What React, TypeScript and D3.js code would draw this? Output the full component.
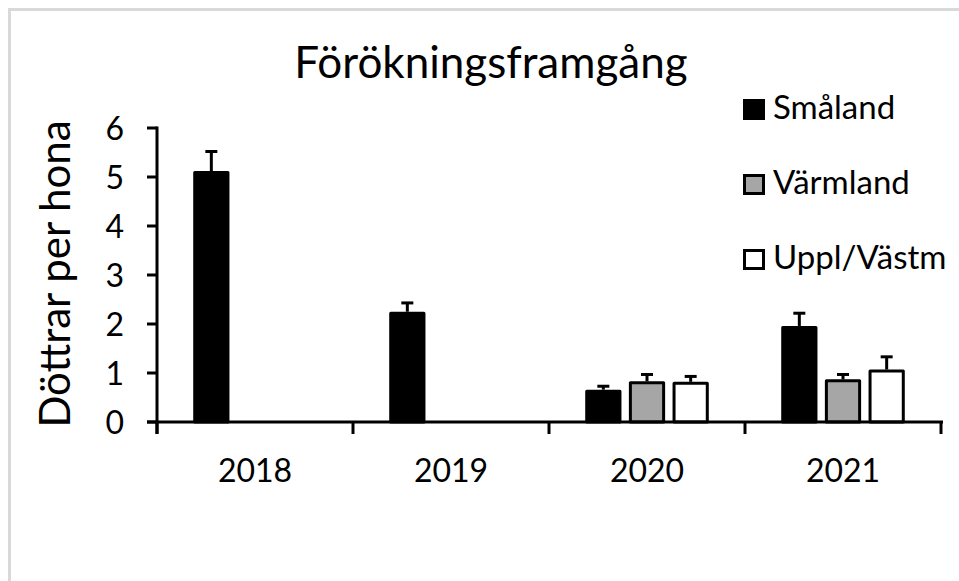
import React, { useEffect, useRef } from "react";
import * as d3 from "d3";

const years = ["2018", "2019", "2020", "2021"];
const seriesNames = ["Småland", "Värmland", "Uppl/Västm"];
const seriesColors = ["#000000", "#a6a6a6", "#ffffff"];
const smaland = [5.12, 2.25, 0.66, 1.96];
const smalandErr = [0.4, 0.18, 0.07, 0.26];
const varmland = [null, null, 0.83, 0.87];
const varmlandErr = [null, null, 0.14, 0.1];
const uppl = [null, null, 0.82, 1.07];
const upplErr = [null, null, 0.11, 0.26];
const yTicks = [0, 1, 2, 3, 4, 5, 6];

const FONT = "Lato, 'Open Sans', sans-serif";

const App = () => {
    const ref = useRef<SVGSVGElement>(null);

    useEffect(() => {
        const svg = d3.select(ref.current);
        svg.selectAll("*").remove();

        const width = 959;
        const height = 581;
        svg.attr("width", width).attr("height", height);

        svg.append("rect")
            .attr("width", width).attr("height", height)
            .attr("fill", "#ffffff");

        // light frame (only top + left visible in the crop)
        svg.append("rect")
            .attr("x", 9.5).attr("y", 9.5)
            .attr("width", width + 20).attr("height", height + 20)
            .attr("fill", "none")
            .attr("stroke", "#d9d9d9")
            .attr("stroke-width", 3);

        const x0 = d3.scaleBand().domain(years).range([157, 941]).padding(0);
        const x1 = d3.scaleBand().domain(seriesNames)
            .range([32.5, 163.5]).paddingInner(0.17).paddingOuter(0.085);
        const y = d3.scaleLinear().domain([0, 6]).range([422, 128]);

        const values = [smaland, varmland, uppl];
        const errors = [smalandErr, varmlandErr, upplErr];

        const bars: { year: string; s: number; v: number; e: number }[] = [];
        years.forEach((yr, i) => {
            seriesNames.forEach((_, s) => {
                const v = values[s][i];
                if (v != null) bars.push({ year: yr, s, v, e: errors[s][i] as number });
            });
        });

        const g = svg.append("g");

        // error bars (drawn first so bar covers the lower end)
        const bw = x1.bandwidth();
        const cx = (d: { year: string; s: number }) =>
            (x0(d.year) as number) + (x1(seriesNames[d.s]) as number) + bw / 2;

        g.selectAll(".err")
            .data(bars)
            .enter()
            .append("line")
            .attr("x1", cx).attr("x2", cx)
            .attr("y1", (d) => y(d.v))
            .attr("y2", (d) => y(d.v + d.e))
            .attr("stroke", "#000").attr("stroke-width", 3);

        g.selectAll(".cap")
            .data(bars)
            .enter()
            .append("line")
            .attr("x1", (d) => cx(d) - 6).attr("x2", (d) => cx(d) + 6)
            .attr("y1", (d) => y(d.v + d.e))
            .attr("y2", (d) => y(d.v + d.e))
            .attr("stroke", "#000").attr("stroke-width", 3);

        g.selectAll(".bar")
            .data(bars)
            .enter()
            .append("rect")
            .attr("x", (d) => (x0(d.year) as number) + (x1(seriesNames[d.s]) as number) + 1.5)
            .attr("y", (d) => y(d.v) + 1.5)
            .attr("width", bw - 3)
            .attr("height", (d) => y(0) - y(d.v) - 1.5)
            .attr("fill", (d) => seriesColors[d.s])
            .attr("stroke", "#000")
            .attr("stroke-width", 3)
            .attr("stroke-linejoin", "round");

        // y axis
        g.append("line")
            .attr("x1", 157).attr("x2", 157)
            .attr("y1", y(6) - 1.5).attr("y2", y(0) + 12)
            .attr("stroke", "#000").attr("stroke-width", 3);
        g.selectAll(".ytick")
            .data(yTicks)
            .enter()
            .append("line")
            .attr("x1", 147).attr("x2", 157)
            .attr("y1", (d) => y(d)).attr("y2", (d) => y(d))
            .attr("stroke", "#000").attr("stroke-width", 3);
        g.selectAll(".ylab")
            .data(yTicks)
            .enter()
            .append("text")
            .attr("x", 124)
            .attr("y", (d) => y(d))
            .attr("dy", "0.36em")
            .attr("text-anchor", "end")
            .style("font-family", FONT)
            .style("font-size", "32px")
            .style("fill", "#000")
            .text((d) => d);

        // x axis
        g.append("line")
            .attr("x1", 147).attr("x2", 943)
            .attr("y1", y(0)).attr("y2", y(0))
            .attr("stroke", "#000").attr("stroke-width", 3);
        const boundaries = years.map((yr) => x0(yr) as number).concat([941]);
        g.selectAll(".xtick")
            .data(boundaries)
            .enter()
            .append("line")
            .attr("x1", (d) => d).attr("x2", (d) => d)
            .attr("y1", y(0)).attr("y2", y(0) + 12)
            .attr("stroke", "#000").attr("stroke-width", 3);
        g.selectAll(".xlab")
            .data(years)
            .enter()
            .append("text")
            .attr("x", (d) => (x0(d) as number) + x0.bandwidth() / 2)
            .attr("y", 482)
            .attr("text-anchor", "middle")
            .style("font-family", FONT)
            .style("font-size", "32px")
            .style("fill", "#000")
            .text((d) => d);

        // titles
        svg.append("text")
            .attr("x", 491).attr("y", 78)
            .attr("text-anchor", "middle")
            .style("font-family", FONT)
            .style("font-size", "44px")
            .style("fill", "#000")
            .text("Förökningsframgång");

        svg.append("text")
            .attr("transform", "translate(70, 274) rotate(-90)")
            .attr("text-anchor", "middle")
            .style("font-family", FONT)
            .style("font-size", "42px")
            .style("fill", "#000")
            .text("Döttrar per hona");

        // legend
        const legend = svg.selectAll(".leg")
            .data(seriesNames)
            .enter()
            .append("g")
            .attr("transform", (_, i) => `translate(744, ${100 + i * 75})`);
        legend.append("rect")
            .attr("x", 0.5).attr("y", 0.5)
            .attr("width", 19).attr("height", 18)
            .attr("fill", (_, i) => seriesColors[i])
            .attr("stroke", "#000")
            .attr("stroke-width", 3);
        legend.append("text")
            .attr("x", 29).attr("y", 19)
            .style("font-family", FONT)
            .style("font-size", "33px")
            .style("fill", "#000")
            .text((d) => d);
    }, []);

    return (
        <svg ref={ref} style={{ position: "absolute", left: 0, top: 0, display: "block" }}></svg>
    );
};

export default App;
